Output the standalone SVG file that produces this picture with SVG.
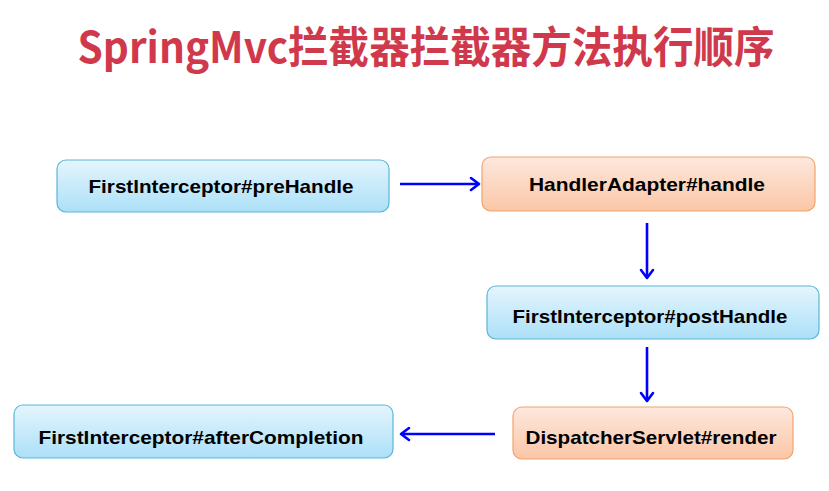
<svg xmlns="http://www.w3.org/2000/svg" width="829" height="491" viewBox="0 0 829 491">
<defs>
<linearGradient id="gBlue" x1="0" y1="0" x2="0" y2="1">
<stop offset="0" stop-color="#e4f5fd"/>
<stop offset="1" stop-color="#ace0f8"/>
</linearGradient>
<linearGradient id="gOrange" x1="0" y1="0" x2="0" y2="1">
<stop offset="0" stop-color="#fde8de"/>
<stop offset="1" stop-color="#fbc6a6"/>
</linearGradient>
<marker id="arr" markerUnits="userSpaceOnUse" markerWidth="14" markerHeight="16" refX="11" refY="8" orient="auto">
<path d="M3,2 L11,8 L3,14" fill="none" stroke="#0000ff" stroke-width="2.6" stroke-linecap="round" stroke-linejoin="round"/>
</marker>
</defs>
<style>
.blue{fill:url(#gBlue);stroke:#5ab6d6;stroke-width:1.2}
.orange{fill:url(#gOrange);stroke:#f2a36c;stroke-width:1.2}
.lbl{font-family:"Liberation Sans",Arial,sans-serif;font-weight:bold;font-size:19px;fill:#000;text-anchor:middle}
.conn{stroke:#0000ff;stroke-width:2.6;fill:none}
.title{font-family:"Noto Sans CJK SC","Noto Sans",sans-serif;font-weight:bold;font-size:43px;fill:#d0394b;text-anchor:middle}
</style>
<rect width="829" height="491" fill="#fff"/>
<text class="title" x="426" y="63" textLength="697" lengthAdjust="spacingAndGlyphs">SpringMvc拦截器拦截器方法执行顺序</text>
<g id="preHandle">
<rect class="blue" x="57" y="160" width="332" height="52" rx="9"/>
<text class="lbl" x="221" y="193" textLength="265" lengthAdjust="spacingAndGlyphs">FirstInterceptor#preHandle</text>
</g>
<g id="handle">
<rect class="orange" x="482" y="157" width="333" height="54" rx="9"/>
<text class="lbl" x="647" y="191" textLength="236" lengthAdjust="spacingAndGlyphs">HandlerAdapter#handle</text>
</g>
<g id="postHandle">
<rect class="blue" x="487" y="286" width="332" height="53" rx="9"/>
<text class="lbl" x="650" y="323" textLength="275" lengthAdjust="spacingAndGlyphs">FirstInterceptor#postHandle</text>
</g>
<g id="render">
<rect class="orange" x="513" y="407" width="280" height="52" rx="9"/>
<text class="lbl" x="651" y="444" textLength="251" lengthAdjust="spacingAndGlyphs">DispatcherServlet#render</text>
</g>
<g id="afterCompletion">
<rect class="blue" x="14" y="405" width="379" height="53" rx="9"/>
<text class="lbl" x="201" y="444" textLength="325" lengthAdjust="spacingAndGlyphs">FirstInterceptor#afterCompletion</text>
</g>
<g id="connectors">
<line class="conn" x1="400" y1="184" x2="479" y2="184" marker-end="url(#arr)"/>
<line class="conn" x1="647" y1="223" x2="647" y2="278" marker-end="url(#arr)"/>
<line class="conn" x1="647" y1="347" x2="647" y2="401" marker-end="url(#arr)"/>
<line class="conn" x1="495" y1="434" x2="401" y2="434" marker-end="url(#arr)"/>
</g>
</svg>
